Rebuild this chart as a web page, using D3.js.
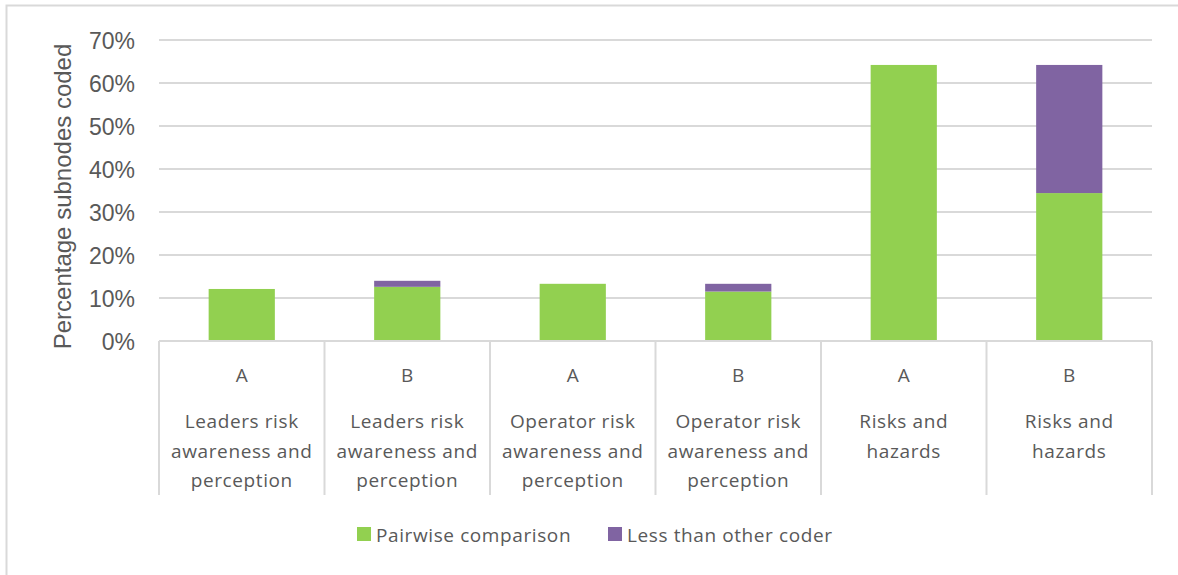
<!DOCTYPE html>
<html>
<head>
<meta charset="utf-8">
<script src="https://cdn.jsdelivr.net/npm/d3@7"></script>
<style>
  html, body { margin: 0; padding: 0; background: #fff; }
  svg { display: block; }
</style>
</head>
<body>
<svg id="chart" width="1178" height="575"></svg>
<script>
// Category groups: coder label and subnode theme (multi-line)
const coders = ["A", "B", "A", "B", "A", "B"];
const themes = [
  ["Leaders risk", "awareness and", "perception"],
  ["Leaders risk", "awareness and", "perception"],
  ["Operator risk", "awareness and", "perception"],
  ["Operator risk", "awareness and", "perception"],
  ["Risks and", "hazards"],
  ["Risks and", "hazards"]
];
// Percentages of subnodes coded
const pairwise = [12.1, 12.6, 13.3, 11.5, 64.2, 34.4];
const lessThanOther = [0, 1.4, 0, 1.8, 0, 29.8];
const seriesNames = ["Pairwise comparison", "Less than other coder"];
const yTicks = [0, 10, 20, 30, 40, 50, 60, 70];

const colors = ["#92d050", "#8064a2"];
const gridColor = "#d9d9d9";
const textColor = "#595959";

const svg = d3.select("#chart");
const W = 1178, H = 575;

// outer frame
svg.append("path")
  .attr("d", `M6.5,${H + 5}V5.5H${W + 5}`)
  .attr("fill", "none").attr("stroke", gridColor).attr("stroke-width", 2);

const plot = { left: 159, right: 1152, top: 40, bottom: 341 };

const idx = d3.range(coders.length);
const x = d3.scaleBand().domain(idx).range([plot.left, plot.right]).paddingInner(0).paddingOuter(0);
const y = d3.scaleLinear().domain([0, 70]).range([plot.bottom, plot.top]);

// gridlines
svg.append("g").selectAll("line").data(yTicks.filter(t => t > 0)).join("line")
  .attr("x1", plot.left).attr("x2", plot.right)
  .attr("y1", d => y(d)).attr("y2", d => y(d))
  .attr("stroke", gridColor).attr("stroke-width", 2);

// y axis tick labels
const yAxis = d3.axisLeft(y).tickValues(yTicks).tickFormat(d => d + "%").tickSize(0).tickPadding(0);
const gy = svg.append("g").attr("transform", `translate(135,0)`).call(yAxis);
gy.select(".domain").remove();
gy.selectAll("text")
  .attr("font-family", "'Liberation Sans', Arial, sans-serif")
  .attr("font-size", 23).attr("fill", textColor).attr("dy", "0.36em");

// y axis title
svg.append("text")
  .attr("transform", `translate(71,${(plot.top + plot.bottom) / 2 + 6}) rotate(-90)`)
  .attr("text-anchor", "middle")
  .attr("font-family", "'Liberation Sans', Arial, sans-serif")
  .attr("font-size", 24).attr("fill", textColor)
  .text("Percentage subnodes coded");

// stacked bars
const rows = idx.map(i => ({ i, pairwise: pairwise[i], less: lessThanOther[i] }));
const stack = d3.stack().keys(["pairwise", "less"]);
const stacked = stack(rows);
const barW = x.bandwidth() * 0.4;

svg.append("g").selectAll("g").data(stacked).join("g")
  .attr("fill", (d, k) => colors[k])
  .selectAll("rect").data(d => d.filter(s => s[1] - s[0] > 0)).join("rect")
  .attr("x", d => x(d.data.i) + (x.bandwidth() - barW) / 2)
  .attr("width", barW)
  .attr("y", d => y(d[1]))
  .attr("height", d => y(d[0]) - y(d[1]));

// category axis line and dividers
svg.append("line")
  .attr("x1", plot.left).attr("x2", plot.right)
  .attr("y1", plot.bottom).attr("y2", plot.bottom)
  .attr("stroke", gridColor).attr("stroke-width", 2);

const dividers = idx.map(i => x(i)).concat([plot.right]);
svg.append("g").selectAll("line").data(dividers).join("line")
  .attr("x1", d => d).attr("x2", d => d)
  .attr("y1", plot.bottom).attr("y2", 495)
  .attr("stroke", gridColor).attr("stroke-width", 2);

// category labels
const labelFont = "'Open Sans', 'Noto Sans', sans-serif";
const cat = svg.append("g").selectAll("g").data(idx).join("g")
  .attr("transform", i => `translate(${x(i) + x.bandwidth() / 2},0)`);
cat.append("text")
  .attr("y", 382).attr("text-anchor", "middle")
  .attr("font-family", labelFont).attr("font-size", 19).attr("fill", textColor)
  .text(i => coders[i]);
cat.append("text")
  .attr("text-anchor", "middle")
  .attr("font-family", labelFont).attr("font-size", 19).attr("fill", textColor)
  .attr("letter-spacing", 0.6)
  .selectAll("tspan").data(i => themes[i]).join("tspan")
  .attr("x", 0).attr("y", (d, k) => 428 + k * 29.5)
  .text(d => d);

// legend
const legendItems = [
  { name: seriesNames[0], color: colors[0], x: 357 },
  { name: seriesNames[1], color: colors[1], x: 608 }
];
const lg = svg.append("g").selectAll("g").data(legendItems).join("g")
  .attr("transform", d => `translate(${d.x},527)`);
lg.append("rect").attr("width", 14).attr("height", 14).attr("fill", d => d.color);
lg.append("text")
  .attr("x", 19).attr("y", 15)
  .attr("font-family", labelFont).attr("font-size", 19).attr("fill", textColor)
  .attr("letter-spacing", 0.6)
  .text(d => d.name);
</script>
</body>
</html>
